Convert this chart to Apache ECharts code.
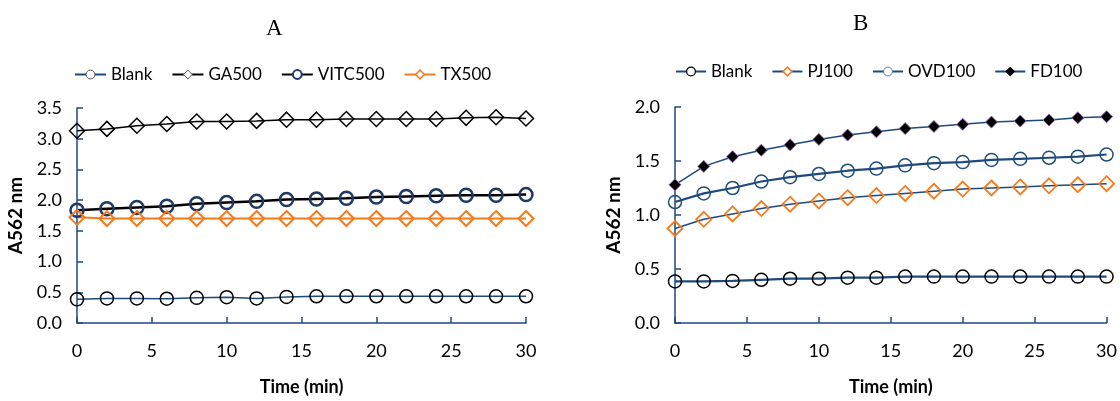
<!DOCTYPE html>
<html>
<head>
<meta charset="utf-8">
<script src="https://cdn.jsdelivr.net/npm/echarts@6/dist/echarts.min.js"></script>
<style>
  html, body { margin: 0; padding: 0; background: #fff; }
  #main { width: 1120px; height: 401px; }
</style>
</head>
<body>
<div id="main"></div>
<script>
// time points (min)
const time = [0, 2, 4, 6, 8, 10, 12, 14, 16, 18, 20, 22, 24, 26, 28, 30];

// panel A
const blankA = [0.385, 0.40, 0.40, 0.395, 0.41, 0.42, 0.40, 0.425, 0.435, 0.435, 0.435, 0.435, 0.435, 0.435, 0.435, 0.435];
const ga500 = [3.13, 3.16, 3.21, 3.24, 3.28, 3.28, 3.29, 3.31, 3.31, 3.32, 3.32, 3.32, 3.32, 3.34, 3.35, 3.33];
const vitc500 = [1.835, 1.86, 1.88, 1.90, 1.94, 1.96, 1.98, 2.01, 2.02, 2.03, 2.05, 2.06, 2.07, 2.08, 2.08, 2.09];
const tx500 = [1.72, 1.70, 1.70, 1.70, 1.70, 1.70, 1.70, 1.70, 1.70, 1.70, 1.70, 1.70, 1.70, 1.70, 1.70, 1.70];

// panel B
const blankB = [0.385, 0.385, 0.39, 0.40, 0.41, 0.41, 0.42, 0.42, 0.43, 0.43, 0.43, 0.43, 0.43, 0.43, 0.43, 0.43];
const pj100 = [0.875, 0.96, 1.01, 1.06, 1.10, 1.13, 1.16, 1.18, 1.20, 1.22, 1.24, 1.25, 1.26, 1.27, 1.28, 1.29];
const ovd100 = [1.12, 1.20, 1.25, 1.31, 1.35, 1.38, 1.41, 1.43, 1.46, 1.48, 1.49, 1.51, 1.52, 1.53, 1.54, 1.56];
const fd100 = [1.28, 1.45, 1.54, 1.60, 1.65, 1.70, 1.74, 1.77, 1.80, 1.82, 1.84, 1.86, 1.87, 1.88, 1.90, 1.91];

const NAVY = '#1F497D';
const ORANGE = '#F67B1C';
const CLEAR = 'rgba(255,255,255,0)';
const FONT = 'Lato';

const pairs = (ys) => time.map((t, i) => [t, ys[i]]);

function xAxis(gridIndex) {
  return {
    gridIndex: gridIndex,
    type: 'value',
    min: 0, max: 30, interval: 5,
    name: 'Time (min)',
    nameLocation: 'middle',
    nameGap: 55,
    nameTextStyle: { fontFamily: FONT, fontSize: 18, fontWeight: 'bold', color: '#000' },
    axisLine: { lineStyle: { color: NAVY, width: 1.5 } },
    axisTick: { show: true, inside: true, length: 6, lineStyle: { color: NAVY, width: 1.5 } },
    axisLabel: { fontFamily: FONT, fontSize: 18, color: '#000', margin: 19 },
    splitLine: { show: false }
  };
}

function yAxis(gridIndex, max) {
  return {
    gridIndex: gridIndex,
    type: 'value',
    min: 0, max: max, interval: 0.5,
    name: 'A562 nm',
    nameLocation: 'middle',
    nameGap: 52,
    nameTextStyle: { fontFamily: FONT, fontSize: 19, fontWeight: 'bold', color: '#000' },
    axisLine: { show: true, lineStyle: { color: NAVY, width: 1.5 } },
    axisTick: { show: true, inside: true, length: 6, lineStyle: { color: NAVY, width: 1.5 } },
    axisLabel: { fontFamily: FONT, fontSize: 18, color: '#000', margin: 15, formatter: (v) => v.toFixed(1) },
    splitLine: { show: false }
  };
}

function line(name, idx, data, lineColor, lineWidth, symbol, size, fill, border, borderWidth) {
  return {
    name: name,
    type: 'line',
    xAxisIndex: idx,
    yAxisIndex: idx,
    data: pairs(data),
    symbol: symbol,
    symbolSize: size,
    showAllSymbol: true,
    lineStyle: { color: lineColor, width: lineWidth },
    itemStyle: { color: fill, borderColor: border, borderWidth: borderWidth },
    emphasis: { disabled: true },
    z: 2
  };
}

// legend entry with the same marker look as its series
const entry = (name, fill, border, bw) => ({
  name: name,
  itemStyle: { color: fill, borderColor: border, borderWidth: bw }
});

const legendText = { fontFamily: FONT, fontSize: 17, color: '#000' };

const myChart = echarts.init(document.getElementById('main'), null, { renderer: 'canvas' });
myChart.setOption({
  backgroundColor: '#fff',
  animation: false,
  title: [
    { text: 'A', left: 261, top: 12, textStyle: { fontFamily: 'Liberation Serif', fontSize: 23, fontWeight: 'normal', color: '#000' } },
    { text: 'B', left: 848, top: 7, textStyle: { fontFamily: 'Liberation Serif', fontSize: 23, fontWeight: 'normal', color: '#000' } }
  ],
  legend: [
    {
      left: 69, top: 61,
      itemWidth: 31, itemHeight: 11, itemGap: 19,
      textStyle: legendText,
      data: [
        entry('Blank', '#fff', '#555', 1),
        entry('GA500', '#fff', '#555', 1),
        entry('VITC500', '#fff', '#1F3864', 2),
        entry('TX500', '#fff', ORANGE, 1.5)
      ]
    },
    {
      left: 670, top: 58,
      itemWidth: 30, itemHeight: 11, itemGap: 19,
      textStyle: legendText,
      formatter: (n) => n.trim(),
      data: [
        entry('Blank ', '#fff', '#000', 1.2),
        entry('PJ100', '#fff', ORANGE, 1.5),
        entry('OVD100', '#fff', '#5B7FA6', 1),
        entry('FD100', '#000', '#000', 1)
      ]
    }
  ],
  grid: [
    { left: 77, right: 594, top: 108, bottom: 66 },
    { left: 675, right: 13, top: 107, bottom: 64 }
  ],
  xAxis: [xAxis(0), xAxis(1)],
  yAxis: [yAxis(0, 3.5), yAxis(1, 2.0)],
  series: [
    line('Blank', 0, blankA, NAVY, 1.5, 'circle', 13, CLEAR, '#000', 1.5),
    line('GA500', 0, ga500, '#000', 1.5, 'diamond', 15, CLEAR, '#000', 1.5),
    line('VITC500', 0, vitc500, '#000', 2.5, 'circle', 13, CLEAR, '#1F3864', 2.5),
    line('TX500', 0, tx500, ORANGE, 2, 'diamond', 15, CLEAR, ORANGE, 2),

    line('Blank ', 1, blankB, NAVY, 2.2, 'circle', 13, CLEAR, '#000', 1.5),
    line('PJ100', 1, pj100, NAVY, 1.5, 'diamond', 15, CLEAR, ORANGE, 1.8),
    line('OVD100', 1, ovd100, NAVY, 2.2, 'circle', 13, CLEAR, '#1F4E79', 1.5),
    line('FD100', 1, fd100, NAVY, 1.5, 'diamond', 12, '#000', '#8E6BAE', 1)
  ]
});

window.addEventListener('resize', () => { myChart.resize(); });
</script>
</body>
</html>
